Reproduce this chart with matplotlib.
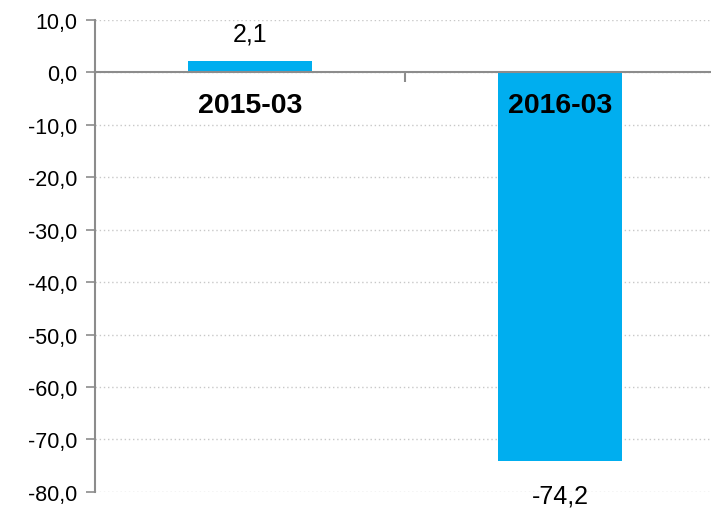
import matplotlib
matplotlib.use("Agg")
import matplotlib.pyplot as plt
from matplotlib.ticker import FuncFormatter, FixedLocator

categories = ["2015-03", "2016-03"]
values = [2.1, -74.2]
y_ticks = [10, 0, -10, -20, -30, -40, -50, -60, -70, -80]

plt.rcParams["font.family"] = ["Liberation Sans", "DejaVu Sans"]

BAR_COLOR = "#00AEEF"
AXIS_COLOR = "#8C8C8C"
GRID_COLOR = "#C8C8C8"

fig = plt.figure(figsize=(7.11, 5.10), dpi=100)
ax = fig.add_axes([0.1336, 0.0335, 0.8720, 0.9255])

x = list(range(len(categories)))
ax.bar(x, values, width=0.4, color=BAR_COLOR, zorder=2)

ax.set_xlim(-0.5, len(categories) - 0.5)
ax.set_ylim(min(y_ticks), max(y_ticks))

# y axis: comma decimal labels, dotted gridlines
ax.yaxis.set_major_locator(FixedLocator(y_ticks))
ax.yaxis.set_major_formatter(FuncFormatter(lambda v, _: f"{v:.1f}".replace(".", ",")))
ax.tick_params(axis="y", direction="out", length=6.5, width=1.2, color=AXIS_COLOR,
               labelsize=15.5, pad=6, labelcolor="#000000")
ax.yaxis.grid(True, linestyle=(0, (1, 2)), color=GRID_COLOR, linewidth=1, zorder=0)

# category axis drawn along zero, with a divider tick between categories
ax.spines["bottom"].set_position(("data", 0))
ax.spines["bottom"].set_color(AXIS_COLOR)
ax.spines["bottom"].set_linewidth(1.5)
ax.spines["bottom"].set_zorder(3)
ax.spines["left"].set_color(AXIS_COLOR)
ax.spines["left"].set_linewidth(1.5)
ax.spines["top"].set_visible(False)
ax.spines["right"].set_visible(False)
ax.set_xticks([i + 0.5 for i in x[:-1]])
ax.set_xticklabels([])
ax.tick_params(axis="x", direction="out", length=7, width=1.5, color=AXIS_COLOR)

for i, (cat, val) in enumerate(zip(categories, values)):
    ax.text(i, -6.3, cat, ha="center", va="center", fontsize=20.5,
            fontweight="bold", color="#000000", zorder=4)
    label = f"{val:.1f}".replace(".", ",")
    if val >= 0:
        ax.text(i, val + 5.3, label, ha="center", va="center", fontsize=18, zorder=4)
    else:
        ax.text(i, val - 6.4, label, ha="center", va="center", fontsize=18,
                zorder=4, clip_on=False)

fig.savefig("out.png", dpi=100)
